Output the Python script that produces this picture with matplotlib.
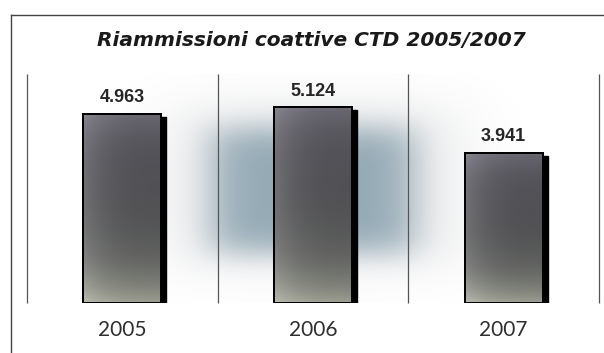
import numpy as np
import matplotlib
matplotlib.use("Agg")
import matplotlib.pyplot as plt
from matplotlib.patches import Rectangle
from matplotlib.lines import Line2D

# ── data ──────────────────────────────────────────────────────────────
years = ["2005", "2006", "2007"]
values = [4963, 5124, 3941]
value_labels = ["4.963", "5.124", "3.941"]
title = "Riammissioni coattive CTD 2005/2007"

W, H = 604, 353
fig = plt.figure(figsize=(W / 100, H / 100), dpi=100)
fig.patch.set_facecolor("white")

# axes box: zero line at y=303 px, separators from x=27 to x=599 px
ax = fig.add_axes([27 / W, (H - 303) / H, 572 / W, 229 / H])
ax.set_xlim(-0.5, 2.5)
ax.set_ylim(0, 6000)
ax.axis("off")
ax.patch.set_alpha(0)

# ── soft blue-grey glow behind the middle bar ─────────────────────────
gx = np.linspace(-0.5, 2.5, 400)
gy = np.linspace(0, 6000, 240)
GX, GY = np.meshgrid(gx, gy)
core = np.exp(-np.abs((GX - 1.0) / 0.55) ** 6 - np.abs((GY - 2950) / 1700) ** 5)
halo = np.exp(-np.abs((GX - 1.0) / 0.78) ** 4 - np.abs((GY - 3050) / 2250) ** 4)
a_core = core * 0.62
a_halo = halo * 0.32
glow = np.zeros(GX.shape + (4,))
tot = np.clip(a_core + a_halo * (1 - a_core), 1e-6, 1)
w = a_core / tot
glow[..., 0] = w * 0.40 + (1 - w) * 0.64
glow[..., 1] = w * 0.53 + (1 - w) * 0.66
glow[..., 2] = w * 0.60 + (1 - w) * 0.68
glow[..., 3] = tot
ax.imshow(glow, extent=(-0.5, 2.5, 0, 6000), origin="lower", aspect="auto",
          interpolation="bilinear", zorder=0)

# separators between categories
for xs in [-0.5, 0.5, 1.5, 2.5]:
    ax.vlines(xs, 0, 6000, color="#555555", linewidth=0.9, zorder=1, clip_on=False)

# ── bars with shadow and gradient fill ────────────────────────────────
bw = 0.41
dx = 5 / 190.7
dy = 3 / 0.0382
x = np.arange(len(years))

u = np.linspace(0, 1, 60)
v = np.linspace(0, 1, 160)
U, V = np.meshgrid(u, v)
shade = 0.31 + 0.12 * (1 - U) ** 3 + 0.30 * (1 - V) ** 5 + 0.10 * V ** 8
fill = np.zeros(U.shape + (3,))
fill[..., 0] = np.clip(shade + 0.01 * V, 0, 1)
fill[..., 1] = np.clip(shade + 0.01 * (1 - V), 0, 1)
fill[..., 2] = np.clip(shade + 0.035 * V - 0.04 * (1 - V) ** 5, 0, 1)

for xi, val in zip(x, values):
    ax.add_patch(Rectangle((xi - bw / 2 + dx, -dy), bw, val, facecolor="black",
                           edgecolor="black", zorder=2))
    bars = ax.bar(xi, val, width=bw, color="#505052", edgecolor="black",
                  linewidth=1.4, zorder=3)
    im = ax.imshow(fill, extent=(xi - bw / 2, xi + bw / 2, 0, val), origin="lower",
                   aspect="auto", interpolation="bilinear", zorder=3.5)
    im.set_clip_path(bars[0])
    ax.add_patch(Rectangle((xi - bw / 2, 0), bw, val, facecolor="none",
                           edgecolor="black", linewidth=1.4, zorder=4))

for xi, val, lab in zip(x, values, value_labels):
    ax.text(xi, val + 430, lab, ha="center", va="center", fontsize=13,
            fontweight="bold", family="Liberation Sans", color="#262626", zorder=5)

for xi, yr in zip(x, years):
    ax.text(xi, -700, yr, ha="center", va="center", fontsize=15,
            family="Lato", color="#2e2e2e", zorder=5)

# ── title and outer frame ─────────────────────────────────────────────
fig.text(311 / W, 1 - 40 / H, title, ha="center", va="center", fontsize=14.5,
         fontweight="bold", style="italic", family="DejaVu Sans", color="#1a1a1a")

fig.add_artist(Line2D([11 / W, 1.0], [1 - 15 / H, 1 - 15 / H], color="#444444",
                      linewidth=1.0, transform=fig.transFigure))
fig.add_artist(Line2D([11 / W, 11 / W], [0, 1 - 15 / H], color="#444444",
                      linewidth=1.0, transform=fig.transFigure))

fig.savefig("out.png", dpi=100, facecolor="white")
